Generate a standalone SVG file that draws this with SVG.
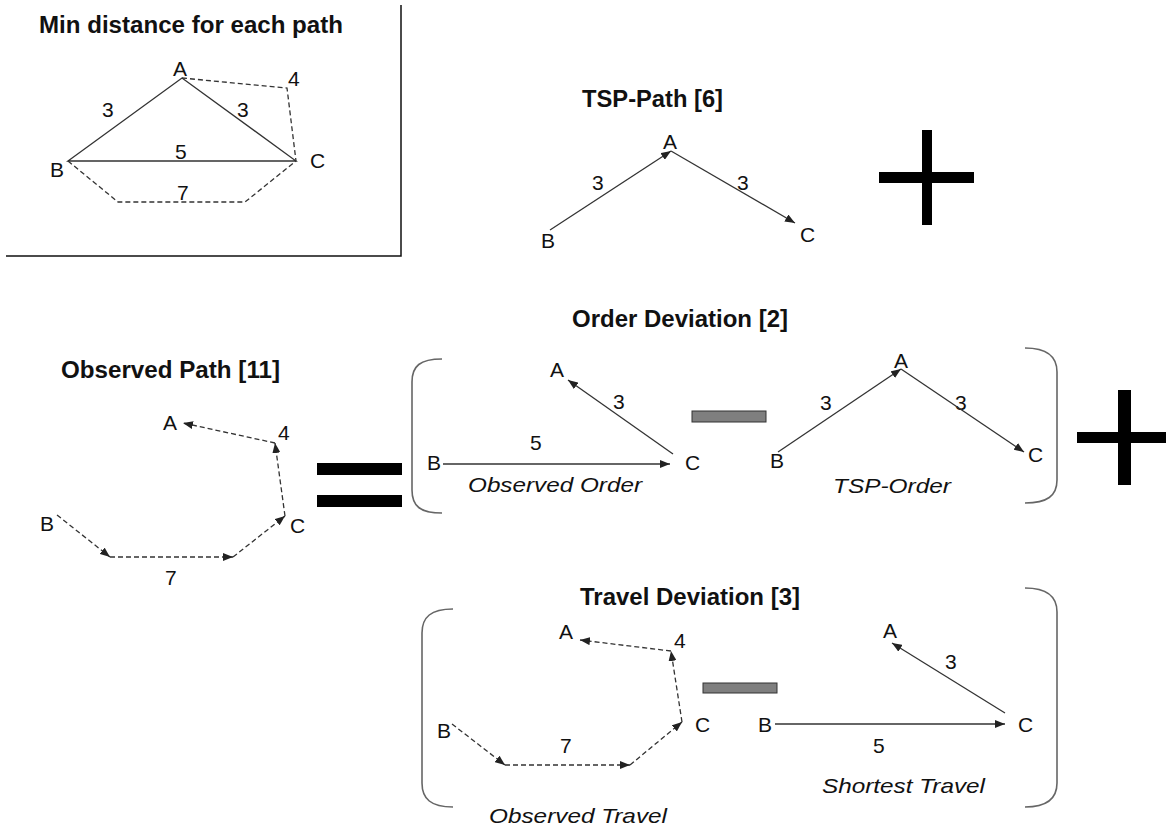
<svg xmlns="http://www.w3.org/2000/svg" width="1166" height="830" viewBox="0 0 1166 830">
<defs>
<marker id="ah" markerUnits="userSpaceOnUse" markerWidth="10" markerHeight="8" viewBox="0 0 10 8" refX="10" refY="4" orient="auto">
<path d="M0,0 L10,4 L0,8 z" fill="#222"/>
</marker>
</defs>
<style>
text{font-family:"Liberation Sans",Arial,sans-serif;fill:#111}
.t{font-size:23px;font-weight:bold}
.l{font-size:21px}
.i{font-size:21px;font-style:italic}
.s{stroke:#333;stroke-width:1.3;fill:none}
.d{stroke:#333;stroke-width:1.3;fill:none;stroke-dasharray:5,3}
.a{marker-end:url(#ah)}
.br{stroke:#666;stroke-width:1.6;fill:none}
.op{fill:#000}
.mi{fill:#7f7f7f;stroke:#333;stroke-width:1}
</style>
<rect width="1166" height="830" fill="#fff"/>

<g id="min-box">
<path d="M401,5 L401,256 L6,256" stroke="#111" stroke-width="1.5" fill="none"/>
<text class="t" x="39" y="33" textLength="304" lengthAdjust="spacingAndGlyphs">Min distance for each path</text>
<path class="s" d="M68,161 L182,78 L296,161 Z"/>
<path class="d" d="M182,78 L287,88 L296,161"/>
<path class="d" d="M68,161 L118,202 L245,202 L296,161"/>
<text class="l" x="173" y="76">A</text>
<text class="l" x="288" y="86">4</text>
<text class="l" x="102" y="117">3</text>
<text class="l" x="237" y="117">3</text>
<text class="l" x="175" y="159">5</text>
<text class="l" x="50" y="177">B</text>
<text class="l" x="310" y="168">C</text>
<text class="l" x="177" y="200">7</text>
</g>

<g id="tsp-path">
<text class="t" x="582" y="107" textLength="141" lengthAdjust="spacingAndGlyphs">TSP-Path [6]</text>
<text class="l" x="663" y="149">A</text>
<text class="l" x="541" y="248">B</text>
<text class="l" x="800" y="242">C</text>
<text class="l" x="592" y="190">3</text>
<text class="l" x="737" y="190">3</text>
</g>

<g id="observed-path">
<text class="t" x="61" y="378" textLength="219" lengthAdjust="spacingAndGlyphs">Observed Path [11]</text>
<text class="l" x="163" y="430">A</text>
<text class="l" x="278" y="440">4</text>
<text class="l" x="290" y="533">C</text>
<text class="l" x="40" y="531">B</text>
<text class="l" x="165" y="585">7</text>
</g>

<g id="order-deviation">
<text class="t" x="572" y="327" textLength="216" lengthAdjust="spacingAndGlyphs">Order Deviation [2]</text>
<path class="br" d="M442,359 C420,359 412,366 412,382 L412,490 C412,506 420,513 442,513"/>
<path class="br" d="M1025,348 C1047,348 1057,356 1057,372 L1057,480 C1057,496 1047,503 1025,503"/>
<text class="l" x="550" y="377">A</text>
<text class="l" x="613" y="409">3</text>
<text class="l" x="530" y="450">5</text>
<text class="l" x="427" y="470">B</text>
<text class="l" x="685" y="470">C</text>
<text class="i" x="468" y="492" textLength="174" lengthAdjust="spacingAndGlyphs">Observed Order</text>
<rect class="mi" x="692" y="411" width="74" height="11"/>
<text class="l" x="894" y="368">A</text>
<text class="l" x="770" y="468">B</text>
<text class="l" x="1028" y="462">C</text>
<text class="l" x="820" y="410">3</text>
<text class="l" x="955" y="410">3</text>
<text class="i" x="833" y="493" textLength="118" lengthAdjust="spacingAndGlyphs">TSP-Order</text>
</g>

<g id="travel-deviation">
<text class="t" x="580" y="605" textLength="220" lengthAdjust="spacingAndGlyphs">Travel Deviation [3]</text>
<path class="br" d="M453,609 C431,609 422,617 422,633 L422,783 C422,799 431,807 453,807"/>
<path class="br" d="M1025,588 C1047,588 1057,596 1057,612 L1057,783 C1057,799 1047,807 1025,807"/>
<text class="l" x="559" y="639">A</text>
<text class="l" x="674" y="648">4</text>
<text class="l" x="695" y="732">C</text>
<text class="l" x="437" y="738">B</text>
<text class="l" x="560" y="753">7</text>
<text class="i" x="489" y="823" textLength="178" lengthAdjust="spacingAndGlyphs">Observed Travel</text>
<rect class="mi" x="703" y="683" width="74" height="10"/>
<text class="l" x="758" y="732">B</text>
<text class="l" x="1018" y="732">C</text>
<text class="l" x="883" y="638">A</text>
<text class="l" x="945" y="669">3</text>
<text class="l" x="873" y="753">5</text>
<text class="i" x="822" y="793" textLength="163" lengthAdjust="spacingAndGlyphs">Shortest Travel</text>
</g>

<g id="operators">
<rect class="op" x="879" y="172" width="95" height="11"/>
<rect class="op" x="922" y="130" width="10" height="95"/>
<rect class="op" x="317" y="463" width="85" height="12"/>
<rect class="op" x="317" y="495" width="85" height="12"/>
<rect class="op" x="1077" y="432" width="89" height="11"/>
<rect class="op" x="1118" y="390" width="13" height="95"/>
</g>

<g id="connectors">
<line class="s a" x1="550" y1="230" x2="671" y2="151"/>
<line class="s a" x1="671" y1="151" x2="795" y2="223"/>
<line class="d a" x1="57" y1="515" x2="110" y2="557"/>
<line class="d a" x1="110" y1="557" x2="233" y2="557"/>
<line class="d a" x1="233" y1="557" x2="285" y2="516"/>
<line class="d a" x1="285" y1="516" x2="275" y2="443"/>
<line class="d a" x1="275" y1="443" x2="183" y2="423"/>
<line class="s a" x1="443" y1="464" x2="670" y2="464"/>
<line class="s a" x1="673" y1="454" x2="568" y2="380"/>
<line class="s a" x1="778" y1="452" x2="901" y2="369"/>
<line class="s a" x1="901" y1="369" x2="1024" y2="452"/>
<line class="d a" x1="452" y1="724" x2="505" y2="765"/>
<line class="d a" x1="505" y1="765" x2="630" y2="765"/>
<line class="d a" x1="630" y1="765" x2="682" y2="722"/>
<line class="d a" x1="682" y1="722" x2="671" y2="651"/>
<line class="d a" x1="671" y1="651" x2="580" y2="640"/>
<line class="s a" x1="775" y1="724" x2="1005" y2="724"/>
<line class="s a" x1="1005" y1="713" x2="892" y2="643"/>
</g>
</svg>
